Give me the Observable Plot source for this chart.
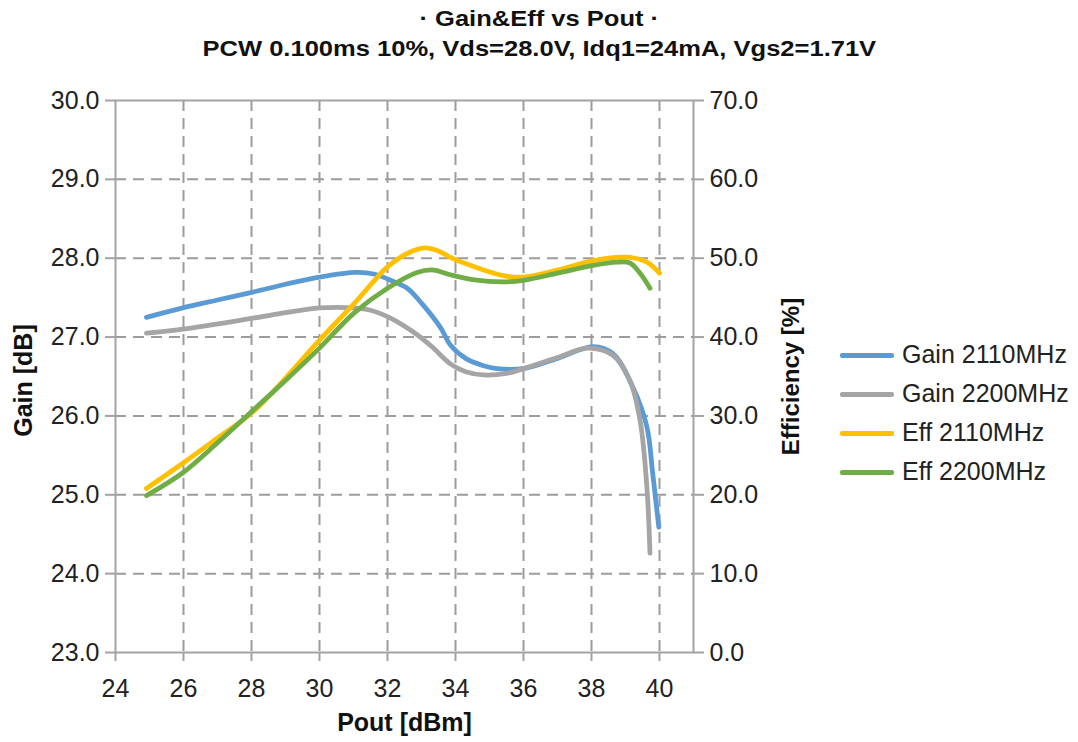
<!DOCTYPE html>
<html>
<head>
<meta charset="utf-8">
<script src="https://cdn.jsdelivr.net/npm/d3@7"></script>
<script src="https://cdn.jsdelivr.net/npm/@observablehq/plot@0.6"></script>
<style>
  body { margin: 0; background: #fff; font-family: "Liberation Sans", Arial, sans-serif; }
  #wrap { position: relative; width: 1078px; height: 742px; overflow: hidden; background: #fff; }
  #title { height: 80px; text-align: center; font-weight: bold; font-size: 22px; color: #111; padding-top: 4px; box-sizing: border-box; }
  #title div { line-height: 30px; }
  #title span { display: inline-block; transform: scaleX(1.16); transform-origin: center; }
  #chart svg { display: block; }
  #legend { position: absolute; left: 840px; top: 335px; font-size: 25px; color: #222; }
  #legend .row { height: 39px; line-height: 39px; white-space: nowrap; }
  #legend .sw { display: inline-block; width: 54px; height: 5px; border-radius: 2px; vertical-align: middle; margin-right: 8px; position: relative; top: -1px; }
</style>
</head>
<body>
<div id="wrap">
  <div id="title">
    <div><span>· Gain&amp;Eff vs Pout ·</span></div>
    <div><span>PCW 0.100ms 10%, Vds=28.0V, Idq1=24mA, Vgs2=1.71V</span></div>
  </div>
  <div id="chart"></div>
  <div id="legend"></div>
</div>
<script>
// ---- Data ----
const xTicks = [24, 26, 28, 30, 32, 34, 36, 38, 40];
const gainTicks = [23, 24, 25, 26, 27, 28, 29, 30];
const effTickLabels = ["0.0", "10.0", "20.0", "30.0", "40.0", "50.0", "60.0", "70.0"];

const seriesNames = ["Gain 2110MHz", "Gain 2200MHz", "Eff 2110MHz", "Eff 2200MHz"];
const seriesColors = ["#5b9bd5", "#a5a5a5", "#ffc000", "#70ad47"];

// Gain 2110MHz [dB]
const poutGain2110 = [24.91, 25.98, 27.0, 28.04, 29.0, 30.0, 31.07, 31.6, 32.09, 32.58, 33.0, 33.56, 33.85, 34.3, 34.8, 35.23, 36.0, 37.0, 38.05, 38.63, 39.22, 39.63, 39.8, 39.98];
const gain2110 =     [27.25, 27.37, 27.47, 27.57, 27.67, 27.76, 27.82, 27.80, 27.72, 27.62, 27.43, 27.12, 26.90, 26.73, 26.64, 26.60, 26.60, 26.73, 26.88, 26.79, 26.36, 25.86, 25.27, 24.59];

// Gain 2200MHz [dB]
const poutGain2200 = [24.91, 25.98, 28.04, 29.0, 30.0, 31.0, 31.5, 32.09, 32.77, 33.3, 33.85, 34.3, 34.82, 35.5, 36.0, 37.0, 37.87, 38.63, 39.13, 39.43, 39.63, 39.72];
const gain2200 =     [27.05, 27.10, 27.24, 27.31, 27.37, 27.37, 27.34, 27.24, 27.06, 26.88, 26.66, 26.56, 26.52, 26.54, 26.60, 26.74, 26.86, 26.77, 26.45, 25.94, 25.09, 24.26];

// Eff 2110MHz [%]
const poutEff2110 = [24.91, 25.98, 27.0, 28.04, 29.0, 30.0, 31.03, 32.0, 32.58, 33.1, 33.56, 33.85, 34.5, 35.4, 36.0, 37.0, 38.05, 38.7, 39.13, 39.63, 40.0];
const eff2110 =     [20.8, 24.0, 27.2, 30.5, 34.8, 39.6, 44.3, 48.9, 50.6, 51.3, 50.8, 50.1, 49.0, 47.8, 47.6, 48.5, 49.7, 50.1, 50.1, 49.5, 48.1];

// Eff 2200MHz [%]
const poutEff2200 = [24.91, 25.98, 27.0, 28.04, 29.0, 30.0, 31.03, 32.0, 32.87, 33.36, 33.85, 34.5, 35.4, 36.0, 37.0, 38.05, 38.75, 39.13, 39.43, 39.72];
const eff2200 =     [19.9, 22.8, 26.6, 30.7, 34.5, 38.6, 43.1, 46.2, 48.2, 48.5, 47.9, 47.3, 47.0, 47.2, 48.1, 49.1, 49.5, 49.4, 48.1, 46.2];

// ---- Build table (efficiency mapped onto gain scale: 0% -> 23 dB, 70% -> 30 dB) ----
const effToGain = e => 23 + e / 10;
const rows = [];
poutGain2110.forEach((x, i) => rows.push({series: seriesNames[0], x, y: gain2110[i]}));
poutGain2200.forEach((x, i) => rows.push({series: seriesNames[1], x, y: gain2200[i]}));
poutEff2110.forEach((x, i) => rows.push({series: seriesNames[2], x, y: effToGain(eff2110[i])}));
poutEff2200.forEach((x, i) => rows.push({series: seriesNames[3], x, y: effToGain(eff2200[i])}));

const W = 800, H = 662;
const gridStyle = {stroke: "#9c9c9c", strokeOpacity: 1, strokeWidth: 2, strokeDasharray: "11,7"};
const font = "'Liberation Sans', Arial, sans-serif";

const chart = Plot.plot({
  width: W,
  height: H,
  marginLeft: 115,
  marginRight: W - 693,
  marginTop: 20,
  marginBottom: 90,
  x: {domain: [24, 41]},
  y: {domain: [23, 30]},
  color: {domain: seriesNames, range: seriesColors},
  style: {fontFamily: font, fontSize: "25px", color: "#222", background: "transparent", overflow: "visible"},
  marks: [
    Plot.gridX(xTicks.filter(d => d > 24), gridStyle),
    Plot.gridY(gainTicks.filter(d => d > 23 && d < 30), gridStyle),
    Plot.frame({stroke: "#a3a3a3", strokeWidth: 2}),
    Plot.axisX(xTicks, {anchor: "bottom", tickSize: 9, tickPadding: 18, stroke: "#a3a3a3", strokeWidth: 2, fill: "#222", fontSize: 25, label: null, tickFormat: d => String(d)}),
    Plot.axisY(gainTicks, {anchor: "left", tickSize: 10, tickPadding: 6, stroke: "#a3a3a3", strokeWidth: 2, fill: "#222", fontSize: 25, label: null, tickFormat: d => d.toFixed(1)}),
    Plot.axisY(gainTicks, {anchor: "right", tickSize: 10, tickPadding: 6, stroke: "#a3a3a3", strokeWidth: 2, fill: "#222", fontSize: 25, label: null, tickFormat: d => effTickLabels[gainTicks.indexOf(d)]}),
    Plot.line(rows, {x: "x", y: "y", z: "series", stroke: "series", strokeWidth: 4.8, curve: "catmull-rom", strokeLinecap: "round", strokeLinejoin: "round"}),
    Plot.text(["Pout [dBm]"], {frameAnchor: "bottom", dy: 78, textAnchor: "middle", fontSize: 25, fontWeight: "bold", fill: "#111"}),
    Plot.text(["Gain [dB]"], {frameAnchor: "left", dx: -92, dy: 4, textAnchor: "middle", rotate: -90, fontSize: 25, fontWeight: "bold", fill: "#111"}),
    Plot.text(["Efficiency [%]"], {frameAnchor: "right", dx: 98, textAnchor: "middle", rotate: -90, fontSize: 24, fontWeight: "bold", fill: "#111"})
  ]
});
document.getElementById("chart").appendChild(chart);

// ---- Legend ----
const legend = document.getElementById("legend");
seriesNames.forEach((name, i) => {
  const row = document.createElement("div");
  row.className = "row";
  const sw = document.createElement("span");
  sw.className = "sw";
  sw.style.background = seriesColors[i];
  row.appendChild(sw);
  row.appendChild(document.createTextNode(name));
  legend.appendChild(row);
});
</script>
</body>
</html>
